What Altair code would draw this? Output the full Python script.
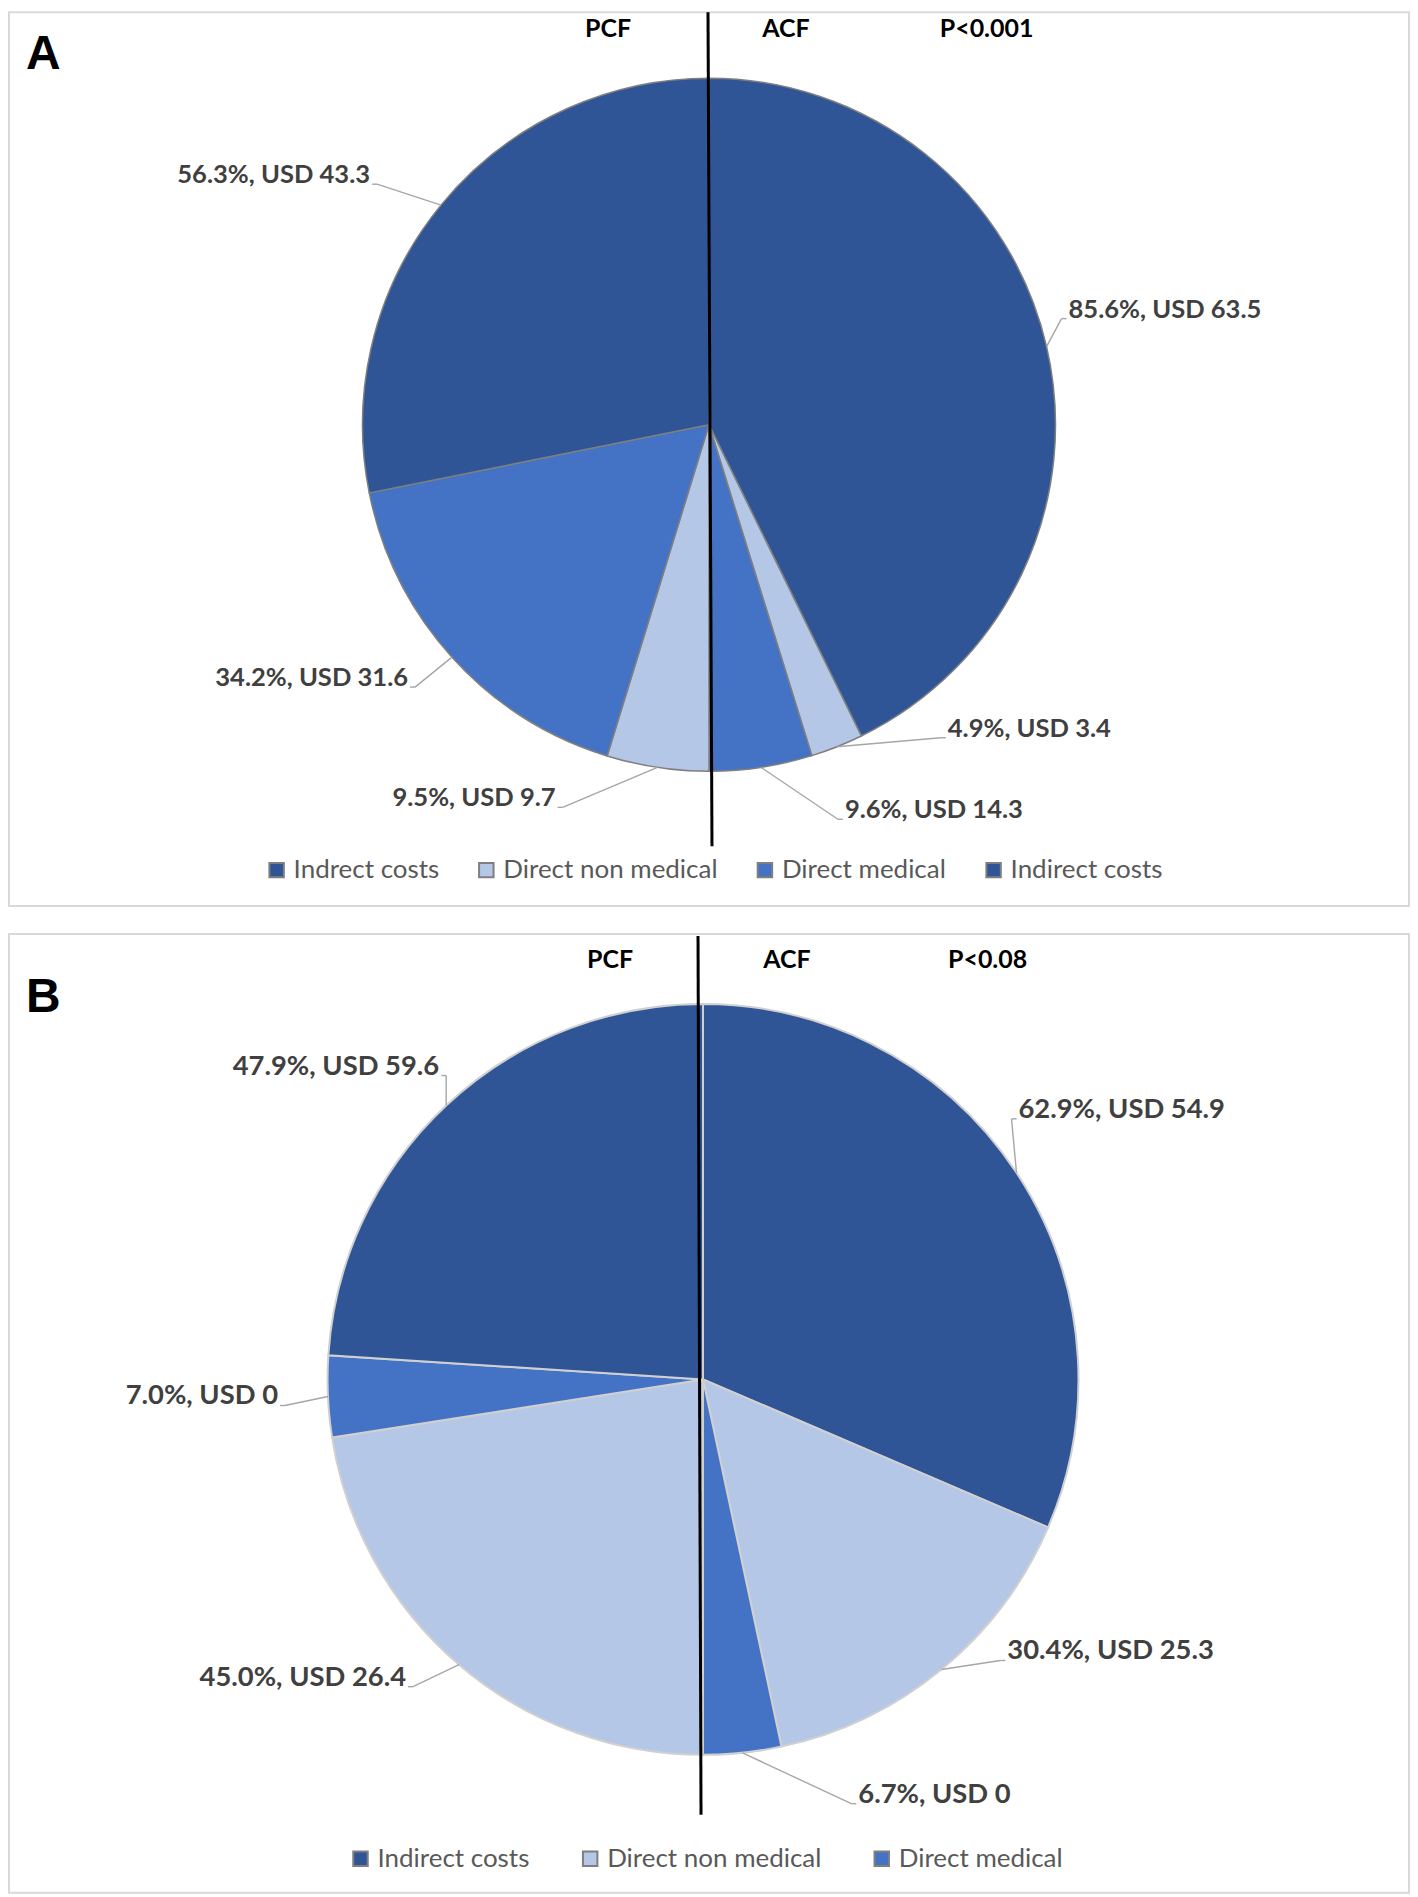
import altair as alt
import pandas as pd

# ---------------- data ----------------
GROUP = ["ACF", "ACF", "ACF", "PCF", "PCF", "PCF"]

A_CATEGORY = ["Indirect costs", "Direct non medical", "Direct medical",
              "Direct non medical", "Direct medical", "Indrect costs"]
A_PCT = [85.6, 4.9, 9.6, 9.5, 34.2, 56.3]
A_USD = [63.5, 3.4, 14.3, 9.7, 31.6, 43.3]
A_LEGEND = ["Indrect costs", "Direct non medical", "Direct medical", "Indirect costs"]
A_HEADERS = ["PCF", "ACF", "P<0.001"]

B_CATEGORY = ["Indirect costs", "Direct non medical", "Direct medical",
              "Direct non medical", "Direct medical", "Indirect costs"]
B_PCT = [62.9, 30.4, 6.7, 45.0, 7.0, 47.9]
B_USD = [54.9, 25.3, 0, 26.4, 0, 59.6]
B_LEGEND = ["Indirect costs", "Direct non medical", "Direct medical"]
B_HEADERS = ["PCF", "ACF", "P<0.08"]

# ---------------- styles / layout ----------------
DARK, MID, LIGHT = "#2F5597", "#4472C4", "#B4C7E7"
COLOR_OF = {"Indrect costs": DARK, "Indirect costs": DARK,
            "Direct non medical": LIGHT, "Direct medical": MID}

W = 1402
LAYOUT_A = dict(h=895, cx=701, cy=413, r=347, stroke="#7f7f7f", sw=1.5,
                offsets=[(15, -28), (104, -9), (77, 52), (-95, 40), (-37, 30), (-64, -21)],
                label_size=25.6,
                header_x=[600, 778, 979], header_y=25,
                letter="A", letter_xy=(17, 57),
                vline=(700, 0, 704, 835),
                legend_xy=(255, 846), col_pad=34, label_offset=4)
LAYOUT_B = dict(h=960, cx=695, cy=446, r=376, stroke="#d0d0d0", sw=2,
                offsets=[(-5, -54), (59, -9), (109, 51), (-46, 22), (-43, 9), (0, -30)],
                label_size=27.4,
                header_x=[602, 779, 980], header_y=34,
                letter="B", letter_xy=(17, 78),
                vline=(690, 2, 693, 882),
                legend_xy=(339, 913), col_pad=47, label_offset=4)

LABEL_FONT = "Lato"


def panel(categories, pct, usd, legend_labels, headers, lay):
    df = pd.DataFrame({
        "group": GROUP,
        "legend": categories,
        "pct": pct,
        "usd": usd,
        "order": list(range(len(pct))),
        "dx": [o[0] for o in lay["offsets"]],
        "dy": [o[1] for o in lay["offsets"]],
    })
    cx, cy, r = lay["cx"], lay["cy"], lay["r"]
    base = (
        alt.Chart(df)
        .transform_joinaggregate(total="sum(pct)", groupby=["group"])
        .transform_window(cum="sum(pct)", groupby=["group"],
                          sort=[alt.SortField("order")], frame=[None, 0])
        .transform_calculate(
            t1="(datum.group == 'ACF' ? 0 : PI) + PI * datum.cum / datum.total",
        )
        .transform_calculate(t0="datum.t1 - PI * datum.pct / datum.total")
        .transform_calculate(mid="(datum.t0 + datum.t1) / 2")
        .transform_calculate(ex=f"{cx} + {r} * sin(datum.mid)",
                             ey=f"{cy} - {r} * cos(datum.mid)",
                             sgn="datum.group == 'ACF' ? 1 : -1")
        .transform_calculate(lx="datum.ex + datum.dx", ly="datum.ey + datum.dy")
        .transform_calculate(hx="datum.lx + 5 * datum.sgn",
                             tx="datum.lx + 7 * datum.sgn",
                             label="format(datum.pct, '.1f') + '%, USD ' + "
                                   "(datum.usd == 0 ? '0' : format(datum.usd, '.1f'))")
    )

    color = alt.Color(
        "legend:N",
        scale=alt.Scale(domain=legend_labels, range=[COLOR_OF[c] for c in legend_labels]),
        legend=alt.Legend(
            title=None, orient="none", direction="horizontal",
            columns=len(legend_labels),
            legendX=lay["legend_xy"][0], legendY=lay["legend_xy"][1],
            symbolType="square", symbolSize=210,
            symbolStrokeColor="#7f7f7f", symbolStrokeWidth=2,
            labelFont=LABEL_FONT, labelFontSize=26, labelColor="#595959",
            labelLimit=600,
            labelOffset=lay["label_offset"], columnPadding=lay["col_pad"], padding=0,
        ),
    )

    arcs = base.mark_arc(radius=r).encode(
        theta=alt.Theta("t0:Q", scale=None, stack=None),
        theta2="t1:Q",
        x=alt.value(cx), y=alt.value(cy),
        color=color,
        stroke=alt.value(lay["stroke"]),
        strokeWidth=alt.value(lay["sw"]),
    )
    leader = base.mark_rule(color="#a6a6a6", strokeWidth=1.4).encode(
        x=alt.X("ex:Q", scale=None, axis=None),
        y=alt.Y("ey:Q", scale=None, axis=None),
        x2="lx:Q", y2="ly:Q",
    )
    elbow = base.mark_rule(color="#a6a6a6", strokeWidth=1.4).encode(
        x=alt.X("lx:Q", scale=None, axis=None),
        y=alt.Y("ly:Q", scale=None, axis=None),
        x2="hx:Q", y2="ly:Q",
    )
    txt_style = dict(baseline="alphabetic", font=LABEL_FONT, fontWeight="bold",
                     fontSize=lay["label_size"], color="#404040", dy=-1)
    t_right = base.transform_filter("datum.group == 'ACF'").mark_text(
        align="left", **txt_style).encode(
        x=alt.X("tx:Q", scale=None, axis=None),
        y=alt.Y("ly:Q", scale=None, axis=None),
        text="label:N",
    )
    t_left = base.transform_filter("datum.group == 'PCF'").mark_text(
        align="right", **txt_style).encode(
        x=alt.X("tx:Q", scale=None, axis=None),
        y=alt.Y("ly:Q", scale=None, axis=None),
        text="label:N",
    )

    one = pd.DataFrame({"k": [0]})
    x1, y1, x2, y2 = lay["vline"]
    vline = alt.Chart(one).mark_rule(color="black", strokeWidth=3).encode(
        x=alt.value(x1), y=alt.value(y1), x2=alt.value(x2), y2=alt.value(y2))

    hdf = pd.DataFrame({"text": headers, "x": lay["header_x"]})
    head = alt.Chart(hdf).mark_text(
        font=LABEL_FONT, fontWeight="bold", fontSize=25, color="black",
        align="center", baseline="alphabetic").encode(
        x=alt.X("x:Q", scale=None, axis=None),
        y=alt.value(lay["header_y"]),
        text="text:N",
    )
    letter = alt.Chart(pd.DataFrame({"t": [lay["letter"]]})).mark_text(
        font="Liberation Sans", fontWeight="bold", fontSize=48, color="black",
        align="left", baseline="alphabetic").encode(
        x=alt.value(lay["letter_xy"][0]), y=alt.value(lay["letter_xy"][1]),
        text="t:N")

    return alt.layer(arcs, leader, elbow, t_right, t_left, vline, head, letter).properties(
        width=W, height=lay["h"])


pA = panel(A_CATEGORY, A_PCT, A_USD, A_LEGEND, A_HEADERS, LAYOUT_A)
pB = panel(B_CATEGORY, B_PCT, B_USD, B_LEGEND, B_HEADERS, LAYOUT_B)

chart = (
    alt.vconcat(pA, pB, spacing=26)
    .resolve_scale(color="independent")
    .resolve_legend(color="independent")
    .properties(padding=0, background="white")
    .configure_view(stroke="#d9d9d9", strokeWidth=2)
)

chart.save("out.html", embed_options={"renderer": "svg", "actions": False})
